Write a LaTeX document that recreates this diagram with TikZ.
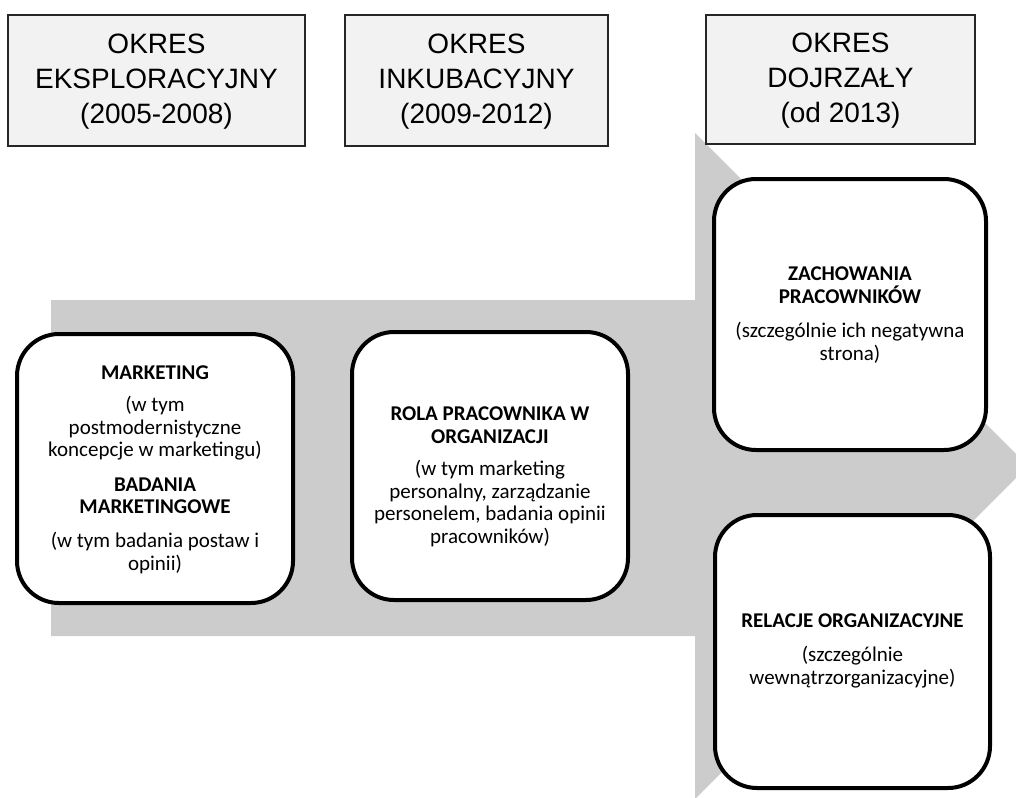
\documentclass[tikz,border=0pt]{standalone}
\usepackage{fontspec}
\setmainfont{Carlito}
\newfontfamily\arialfont{Liberation Sans}
\definecolor{arrowgray}{HTML}{CCCCCC}
\definecolor{headfill}{HTML}{F2F2F2}
\tikzset{
  headbox/.style={draw=black!85, line width=1.2pt, fill=headfill, inner sep=0pt},
  headtext/.style={align=center, inner sep=0pt, font=\arialfont\fontsize{28}{35}\selectfont},
  roundbox/.style={draw=black, line width=4pt, fill=white, rounded corners=42pt, inner sep=0pt},
  bodytext/.style={align=center, inner sep=0pt, font=\fontsize{21}{22.5}\selectfont},
}
\begin{document}
\begin{tikzpicture}[x=1pt,y=-1pt]
\useasboundingbox (0,0) rectangle (1016,797);
\begin{scope}
\clip (0,0) rectangle (1016,797);
\fill[arrowgray] (51,300) -- (695,300) -- (695,133) -- (1028,466) -- (695,799) -- (695,636) -- (51,636) -- cycle;
\end{scope}
% header boxes
\node[headbox, minimum width=297pt, minimum height=131pt] (h1) at (156.5,80.5) {};
\node[headbox, minimum width=263pt, minimum height=131pt] (h2) at (476.5,80.5) {};
\node[headbox, minimum width=269pt, minimum height=129pt] (h3) at (840.5,79.5) {};
\node[headtext, anchor=base] (ht1) at (156.5,123) {OKRES\\EKSPLORACYJNY\\(2005-2008)};
\node[headtext, anchor=base] (ht2) at (476.5,123) {OKRES\\INKUBACYJNY\\(2009-2012)};
\node[headtext, anchor=base] (ht3) at (840.5,122) {OKRES\\DOJRZAŁY\\(od 2013)};
% rounded boxes
\node[roundbox, minimum width=276pt, minimum height=269pt] (b1) at (155,468.5) {};
\node[roundbox, minimum width=276pt, minimum height=268pt] (b2) at (490,466) {};
\node[roundbox, minimum width=272pt, minimum height=271pt] (b3) at (850,314.5) {};
\node[roundbox, minimum width=275pt, minimum height=273pt] (b4) at (852.5,651.5) {};
% texts (anchor=base is the baseline of the last line)
\node[bodytext, anchor=base] (t1) at (155,570) {\textbf{MARKETING}\\[10pt]
(w tym\\postmodernistyczne\\koncepcje w marketingu)\\[12pt]
\textbf{BADANIA}\\\textbf{MARKETINGOWE}\\[11.5pt]
(w tym badania postaw i\\opinii)};
\node[bodytext, anchor=base] (t2) at (490,543) {\textbf{ROLA PRACOWNIKA W}\\\textbf{ORGANIZACJI}\\[10pt]
(w tym marketing\\personalny, zarządzanie\\personelem, badania opinii\\pracowników)};
\node[bodytext, anchor=base] (t3) at (850,360) {\textbf{ZACHOWANIA}\\\textbf{PRACOWNIKÓW}\\[12pt]
(szczególnie ich negatywna\\strona)};
\node[bodytext, anchor=base] (t4) at (852.5,684) {\textbf{RELACJE ORGANIZACYJNE}\\[11.5pt]
(szczególnie\\wewnątrzorganizacyjne)};
\end{tikzpicture}
\end{document}
